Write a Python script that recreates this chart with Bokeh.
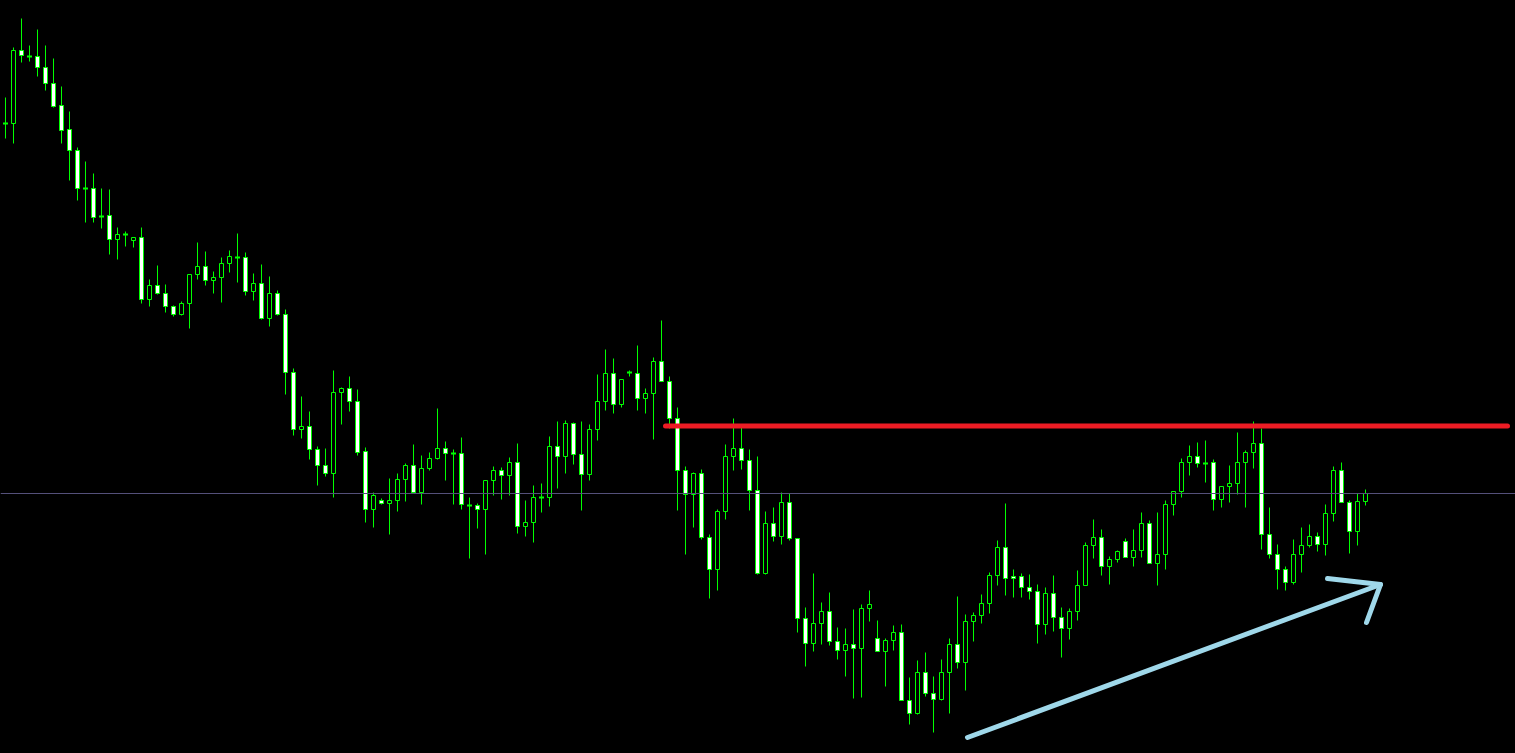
import numpy as np
from bokeh.plotting import figure
from bokeh.models import Range1d, ColumnDataSource, Span
from bokeh.embed import file_html
from bokeh.resources import INLINE

# Candle prices (arbitrary price points), oldest to newest
open_ = [877, 877, 950, 944, 944, 933, 917, 895, 871, 850,
         812, 812, 784, 785, 761, 766, 760, 763, 701, 715,
         707, 694, 686, 697, 726, 734, 720, 723, 737, 743,
         743, 709, 717, 682, 707, 686, 628, 571, 574, 551,
         535, 527, 608, 612, 599, 549, 491, 500, 497, 500,
         521, 535, 508, 532, 542, 552, 547, 547, 495, 495,
         491, 520, 530, 525, 538, 474, 478, 503, 503, 554,
         544, 577, 546, 526, 571, 599, 627, 596, 628, 627,
         602, 607, 639, 619, 582, 530, 506, 527, 463, 431,
         489, 544, 552, 540, 510, 427, 477, 464, 498, 462,
         382, 357, 377, 389, 359, 350, 356, 352, 392, 362,
         349, 360, 368, 300, 287, 328, 307, 301, 328, 356,
         338, 379, 385, 397, 425, 453, 424, 424, 413, 409,
         376, 407, 383, 372, 389, 415, 455, 463, 434, 441,
         459, 443, 450, 477, 437, 446, 496, 509, 538, 544,
         537, 538, 501, 514, 517, 538, 548, 557, 466, 446,
         431, 418, 446, 455, 464, 456, 487, 530, 498, 469,
         499]
high = [903, 953, 982, 955, 971, 955, 942, 914, 889, 853,
        839, 827, 812, 811, 773, 769, 763, 773, 721, 735,
        716, 695, 699, 726, 758, 749, 729, 743, 750, 767,
        748, 727, 736, 724, 710, 691, 632, 604, 589, 554,
        552, 630, 613, 624, 611, 553, 508, 502, 522, 527,
        537, 556, 545, 548, 592, 559, 551, 563, 503, 497,
        520, 534, 533, 543, 557, 500, 515, 517, 564, 579,
        580, 578, 579, 576, 626, 651, 642, 621, 630, 655,
        612, 643, 680, 624, 593, 534, 528, 531, 466, 491,
        556, 582, 575, 551, 544, 489, 493, 508, 507, 462,
        393, 427, 398, 408, 373, 372, 391, 396, 410, 380,
        362, 375, 376, 323, 340, 348, 324, 341, 362, 404,
        386, 388, 406, 428, 460, 497, 431, 427, 426, 416,
        413, 425, 393, 392, 430, 458, 481, 471, 444, 450,
        462, 471, 488, 480, 488, 500, 509, 542, 555, 558,
        560, 541, 514, 535, 568, 550, 579, 572, 493, 456,
        434, 461, 473, 476, 468, 496, 534, 538, 500, 507,
        511]
low = [862, 857, 938, 939, 924, 910, 893, 857, 820, 800,
       778, 778, 772, 746, 741, 754, 753, 697, 694, 706,
       688, 684, 685, 672, 721, 715, 707, 698, 728, 718,
       705, 700, 681, 674, 685, 606, 565, 562, 541, 515,
       524, 503, 576, 589, 545, 478, 473, 496, 466, 489,
       499, 507, 496, 530, 541, 520, 496, 491, 442, 472,
       446, 505, 501, 505, 467, 464, 458, 488, 494, 512,
       527, 536, 490, 520, 560, 590, 587, 593, 624, 590,
       587, 561, 619, 572, 490, 446, 473, 461, 402, 410,
       481, 530, 531, 490, 426, 426, 459, 456, 460, 368,
       334, 349, 356, 355, 341, 324, 302, 303, 379, 349,
       314, 350, 300, 276, 286, 304, 268, 300, 287, 332,
       310, 359, 377, 387, 415, 405, 403, 403, 401, 357,
       366, 369, 343, 361, 380, 415, 442, 425, 416, 438,
       443, 434, 443, 437, 415, 431, 485, 503, 525, 533,
       518, 490, 493, 498, 506, 493, 532, 451, 442, 411,
       410, 416, 428, 453, 449, 445, 479, 498, 447, 455,
       495]
close = [877, 950, 945, 944, 933, 917, 894, 870, 850, 812,
         812, 783, 784, 761, 766, 766, 763, 701, 715, 707,
         694, 686, 697, 726, 734, 720, 723, 737, 744, 743,
         709, 717, 682, 707, 686, 628, 571, 574, 551, 535,
         527, 608, 612, 599, 548, 491, 505, 497, 500, 521,
         535, 508, 532, 542, 552, 547, 547, 496, 495, 491,
         520, 530, 525, 538, 474, 478, 503, 503, 554, 544,
         577, 546, 526, 571, 599, 627, 596, 621, 628, 602,
         607, 639, 619, 582, 530, 506, 527, 463, 431, 489,
         544, 552, 540, 510, 427, 477, 464, 498, 462, 382,
         357, 377, 389, 359, 350, 356, 352, 392, 396, 349,
         360, 368, 300, 287, 328, 307, 301, 328, 356, 338,
         379, 385, 397, 425, 453, 422, 422, 413, 409, 376,
         407, 383, 372, 389, 415, 455, 463, 434, 441, 449,
         443, 450, 477, 437, 446, 496, 509, 538, 544, 537,
         537, 501, 514, 517, 538, 548, 557, 466, 446, 431,
         418, 446, 455, 464, 456, 487, 530, 498, 469, 499,
         507]

# Drawn objects (in bar index / price units)
resistance_level = 574.5
resistance_from, resistance_to = 82.5, 187.75
arrow_start = (120.25, 263.0)
arrow_tip = (171.875, 416.0)
arrow_wing_a = (165.25, 422.0)
arrow_wing_b = (170.125, 378.0)

BULL_FILL = "#000000"
BEAR_FILL = "#FFFFFF"
CANDLE_LINE = "#00FF00"

n = len(close)
idx = np.arange(n)
o = np.array(open_, dtype=float)
c = np.array(close, dtype=float)
h = np.array(high, dtype=float)
l = np.array(low, dtype=float)

doji = o == c
body = ~doji
fills = np.where(c > o, BULL_FILL, BEAR_FILL)

W, H = 1515, 753
p = figure(width=W, height=H, output_backend="svg", toolbar_location=None,
           x_range=Range1d(-5.0 / 8, -5.0 / 8 + W / 8),
           y_range=Range1d(1000.0 - H, 1000.0),
           background_fill_color="#000000", border_fill_color="#000000",
           outline_line_color=None, min_border=0,
           x_axis_location=None, y_axis_location=None)
p.xgrid.visible = False
p.ygrid.visible = False

# bid line
p.add_layout(Span(location=close[-1], dimension="width",
                  line_color="#54507A", line_width=1))

# wicks
p.segment(x0=idx, y0=l, x1=idx, y1=h, line_color=CANDLE_LINE, line_width=1)

# bodies
src = ColumnDataSource(dict(x=idx[body], top=np.maximum(o, c)[body],
                            bottom=np.minimum(o, c)[body], fill=fills[body]))
p.vbar(x="x", top="top", bottom="bottom", width=0.5, source=src,
       fill_color="fill", line_color=CANDLE_LINE, line_width=1)

# doji crosses
p.segment(x0=idx[doji] - 0.3125, y0=o[doji], x1=idx[doji] + 0.3125, y1=o[doji],
          line_color=CANDLE_LINE, line_width=2)

# red horizontal resistance line
p.line([resistance_from, resistance_to], [resistance_level, resistance_level],
       line_color="#ED1C24", line_width=5, line_cap="round")

# light-blue arrow
p.multi_line(xs=[[arrow_start[0], arrow_tip[0]], [arrow_wing_a[0], arrow_tip[0], arrow_wing_b[0]]],
             ys=[[arrow_start[1], arrow_tip[1]], [arrow_wing_a[1], arrow_tip[1], arrow_wing_b[1]]],
             line_color="#9FD8EA", line_width=5, line_cap="round", line_join="round")

html = file_html(p, INLINE)
html = html.replace("<head>", "<head><style>html,body{margin:0;padding:0;background:#000000;overflow:hidden;}</style>", 1)
open("out.html", "w").write(html)
